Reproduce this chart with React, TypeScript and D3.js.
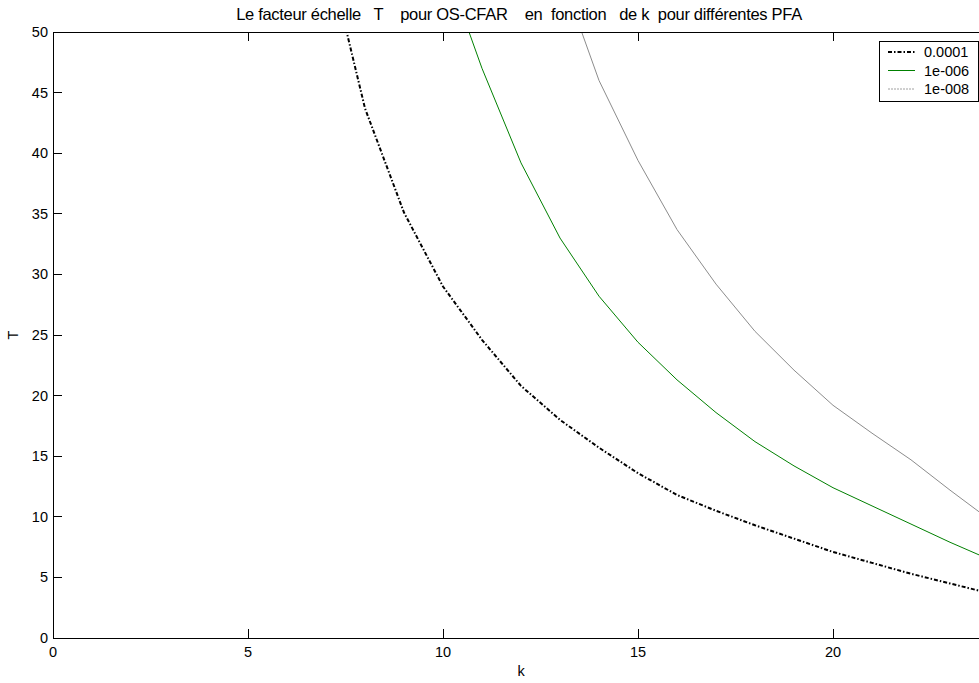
import React from "react";
import * as d3 from "d3";

// Scale factor T of the OS-CFAR detector versus order statistic k, per PFA
const kBlack = [7, 8, 9, 10, 11, 12, 13, 14, 15, 16, 17, 18, 19, 20, 21, 22, 23, 24];
const tBlack = [57.1, 43.7, 35.1, 29.0, 24.6, 20.8, 18.0, 15.7, 13.6, 11.8, 10.5, 9.3, 8.2, 7.1, 6.2, 5.3, 4.5, 3.7];

const kGreen = [10, 11, 12, 13, 14, 15, 16, 17, 18, 19, 20, 21, 22, 23, 24];
const tGreen = [56.0, 47.0, 39.2, 33.0, 28.2, 24.4, 21.3, 18.6, 16.2, 14.2, 12.4, 10.9, 9.4, 7.9, 6.5];

const kGray = [13, 14, 15, 16, 17, 18, 19, 20, 21, 22, 23, 24];
const tGray = [55.0, 46.0, 39.4, 33.7, 29.2, 25.3, 22.1, 19.2, 16.9, 14.7, 12.2, 9.8];

const seriesNames = ["0.0001", "1e-006", "1e-008"];
const xTicks = [0, 5, 10, 15, 20];
const yTicks = [0, 5, 10, 15, 20, 25, 30, 35, 40, 45, 50];

const W = 979;
const H = 683;
const left = 53;
const right = 989;
const top = 32;
const bottom = 638;
const FONT = "'Liberation Sans', Arial, Helvetica, sans-serif";

const styles = [
  { stroke: "#000000", width: 2, dash: "4,2,1.5,2", legendStroke: "#000000", legendDash: "4,2,1.5,2" },
  { stroke: "#008000", width: 1, dash: undefined as string | undefined, legendStroke: "#008000", legendDash: undefined as string | undefined },
  { stroke: "#8c8c8c", width: 1, dash: undefined as string | undefined, legendStroke: "#a0a0a0", legendDash: "2,1" },
];

export default function App() {
  const x = d3.scaleLinear().domain([0, 24]).range([left, right]);
  const y = d3.scaleLinear().domain([0, 50]).range([bottom, top]);
  const line = d3
    .line<[number, number]>()
    .x((d) => x(d[0]))
    .y((d) => y(d[1]));

  const series = [
    d3.zip(kBlack, tBlack) as [number, number][],
    d3.zip(kGreen, tGreen) as [number, number][],
    d3.zip(kGray, tGray) as [number, number][],
  ];

  const tickLen = 9;
  const legX = 879;
  const legY = 41;
  const legW = 99;
  const legH = 60;
  const fs = 14.5;

  return (
    <svg
      width={W}
      height={H}
      style={{ position: "absolute", left: 0, top: 0, background: "#fff" }}
      fontFamily={FONT}
    >
      <defs>
        <clipPath id="plotArea">
          <rect x={left} y={top} width={right - left} height={bottom - top} />
        </clipPath>
      </defs>
      <rect x={0} y={0} width={W} height={H} fill="#fff" />

      {/* curves */}
      <g clipPath="url(#plotArea)">
        {series.map((s, i) => (
          <path
            key={i}
            d={line(s) || ""}
            fill="none"
            stroke={styles[i].stroke}
            strokeWidth={styles[i].width}
            strokeDasharray={styles[i].dash}
          />
        ))}
      </g>

      {/* axes box */}
      <rect
        x={left}
        y={top}
        width={right - left}
        height={bottom - top}
        fill="none"
        stroke="#000"
        strokeWidth={1}
        shapeRendering="crispEdges"
      />

      {/* x ticks */}
      {xTicks.map((t) => (
        <g key={"x" + t}>
          <line x1={x(t)} x2={x(t)} y1={bottom} y2={bottom - tickLen} stroke="#000" shapeRendering="crispEdges" />
          <line x1={x(t)} x2={x(t)} y1={top} y2={top + tickLen} stroke="#000" shapeRendering="crispEdges" />
          <text x={x(t)} y={657} fontSize={fs} textAnchor="middle" fill="#000">
            {t}
          </text>
        </g>
      ))}

      {/* y ticks */}
      {yTicks.map((t) => (
        <g key={"y" + t}>
          <line x1={left} x2={left + tickLen} y1={y(t)} y2={y(t)} stroke="#000" shapeRendering="crispEdges" />
          <line x1={right} x2={right - tickLen} y1={y(t)} y2={y(t)} stroke="#000" shapeRendering="crispEdges" />
          <text x={48} y={y(t) + 5} fontSize={fs} textAnchor="end" fill="#000">
            {t}
          </text>
        </g>
      ))}

      {/* labels */}
      <text
        x={(left + right) / 2 - 2}
        y={20}
        fontSize={16.5}
        textAnchor="middle"
        fill="#000"
        letterSpacing={-0.3}
        style={{ whiteSpace: "pre" }}
      >
        {"Le facteur échelle   T    pour OS-CFAR    en  fonction   de k  pour différentes PFA"}
      </text>
      <text x={(left + right) / 2} y={676} fontSize={fs} textAnchor="middle" fill="#000">
        k
      </text>
      <text
        transform={`translate(18, ${(top + bottom) / 2}) rotate(-90)`}
        fontSize={fs}
        textAnchor="middle"
        fill="#000"
      >
        T
      </text>

      {/* legend */}
      <g>
        <rect x={legX} y={legY} width={legW} height={legH} fill="#fff" stroke="#000" strokeWidth={1} shapeRendering="crispEdges" />
        {seriesNames.map((name, i) => {
          const cy = legY + 11 + i * 18.5;
          return (
            <g key={name}>
              <line
                x1={888}
                x2={915}
                y1={cy}
                y2={cy}
                stroke={styles[i].legendStroke}
                strokeWidth={styles[i].width}
                strokeDasharray={styles[i].legendDash}
              />
              <text x={924} y={cy + 5} fontSize={fs} fill="#000">
                {name}
              </text>
            </g>
          );
        })}
      </g>
    </svg>
  );
}
